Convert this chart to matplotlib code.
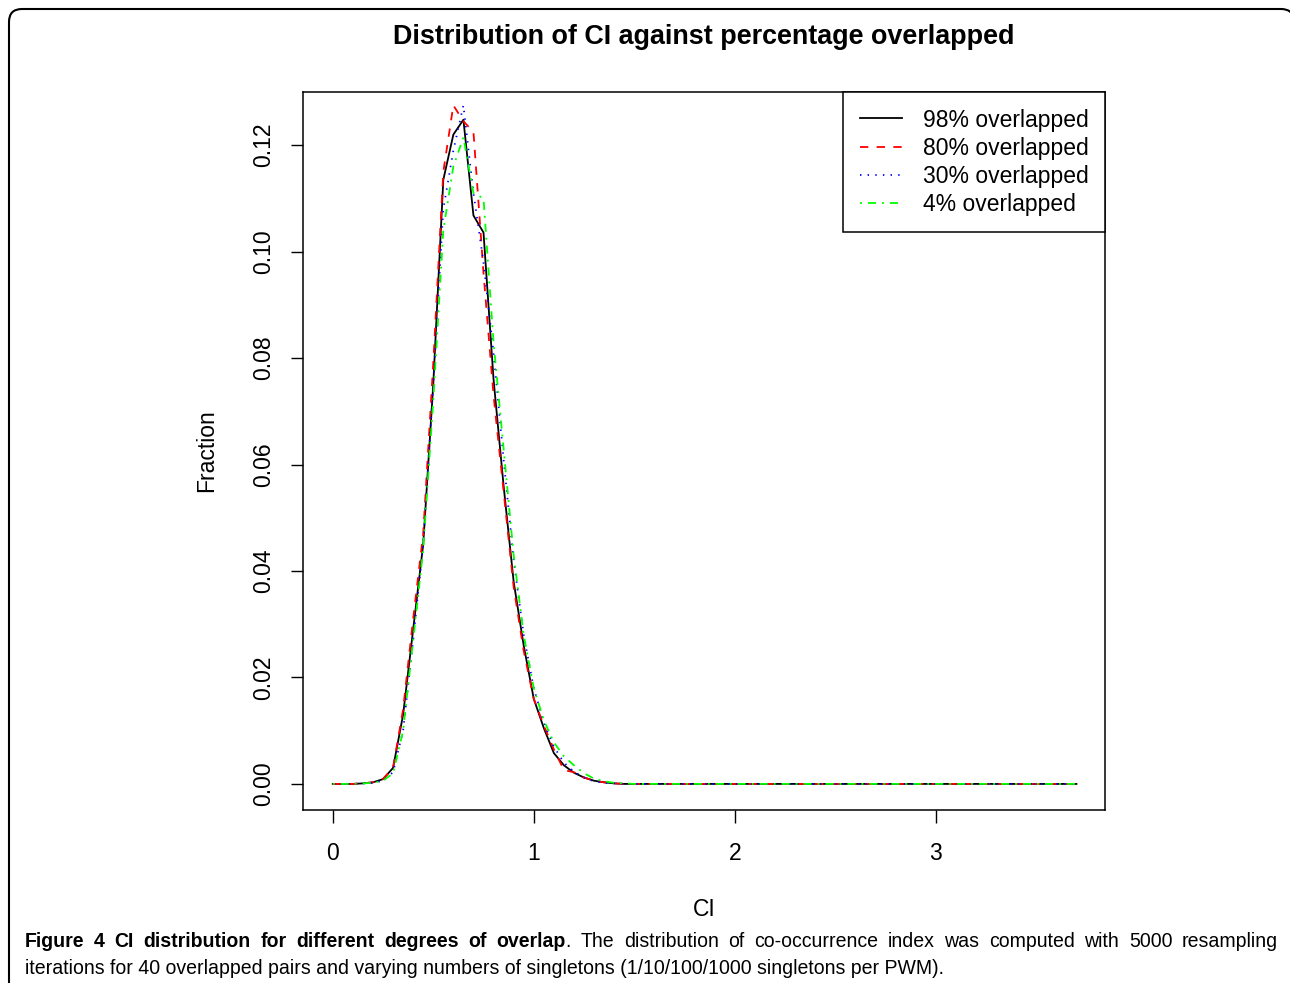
import matplotlib
matplotlib.use("Agg")
import matplotlib.pyplot as plt
from matplotlib.patches import PathPatch
from matplotlib.path import Path
from matplotlib.transforms import IdentityTransform

# CI bins (the tail past 1.5 is flat at zero up to 3.7)
ci = [0, 0.05, 0.1, 0.15, 0.2, 0.25, 0.3, 0.35, 0.4, 0.45, 0.5, 0.55, 0.6, 0.65,
      0.7, 0.75, 0.8, 0.85, 0.9, 0.95, 1.0, 1.05, 1.1, 1.15, 1.2, 1.25, 1.3,
      1.35, 1.4, 1.45, 1.5, 3.7]

overlap_98 = [0, 0, 0, 0.0001, 0.0003, 0.0009, 0.003, 0.013, 0.029, 0.045, 0.075,
              0.1135, 0.122, 0.1248, 0.1068, 0.1036, 0.076, 0.056, 0.038, 0.026,
              0.016, 0.0105, 0.0058, 0.0035, 0.0021, 0.0012, 0.0006, 0.0003,
              0.0001, 0, 0, 0]
overlap_80 = [0, 0, 0, 0.0001, 0.0003, 0.0009, 0.003, 0.014, 0.031, 0.047, 0.079,
              0.115, 0.1275, 0.1245, 0.1225, 0.096, 0.073, 0.055, 0.037, 0.025,
              0.016, 0.011, 0.0065, 0.0026, 0.0022, 0.0012, 0.0006, 0.0003,
              0.0001, 0, 0, 0]
overlap_30 = [0, 0, 0, 0.0001, 0.0002, 0.0006, 0.0022, 0.010, 0.027, 0.045, 0.075,
              0.108, 0.119, 0.1275, 0.111, 0.098, 0.081, 0.061, 0.042, 0.028,
              0.018, 0.0115, 0.007, 0.004, 0.0023, 0.0012, 0.0005, 0.0002,
              0.0001, 0, 0, 0]
overlap_4 = [0, 0, 0, 0.0001, 0.0002, 0.0006, 0.002, 0.010, 0.027, 0.044, 0.072,
             0.104, 0.116, 0.1215, 0.111, 0.110, 0.083, 0.063, 0.043, 0.028,
             0.018, 0.012, 0.0078, 0.0052, 0.0035, 0.002, 0.001, 0.0005,
             0.0002, 0.0001, 0, 0]

series_labels = ["98% overlapped", "80% overlapped", "30% overlapped", "4% overlapped"]
x_ticks = [0, 1, 2, 3]
y_ticks = [0.00, 0.02, 0.04, 0.06, 0.08, 0.10, 0.12]
y_tick_labels = ["0.00", "0.02", "0.04", "0.06", "0.08", "0.10", "0.12"]

plt.rcParams['font.family'] = ['Liberation Sans', 'DejaVu Sans']
plt.rcParams['lines.scale_dashes'] = False

W, H = 1290, 983
fig = plt.figure(figsize=(W / 100, H / 100), dpi=100)
ax = fig.add_axes([303 / W, 1 - 810 / H, 802 / W, 718 / H])

lw = 1.3
ax.plot(ci, overlap_98, color='black', lw=lw, label=series_labels[0])
ax.plot(ci, overlap_80, color='#ff0000', lw=lw, dashes=(6, 6), label=series_labels[1])
ax.plot(ci, overlap_30, color='#0000ff', lw=lw, dashes=(1, 4.5), label=series_labels[2])
ax.plot(ci, overlap_4, color='#00ff00', lw=lw, dashes=(1.4, 4.3, 5.8, 4.3),
        label=series_labels[3])

ax.set_xlim(-0.148, 3.842)
ax.set_ylim(-0.0049, 0.13)
ax.set_xticks(x_ticks)
ax.set_xticklabels([str(t) for t in x_ticks])
ax.set_yticks(y_ticks)
ax.set_yticklabels(y_tick_labels, rotation=90, va='center')
ax.tick_params(direction='out', length=9, width=1, labelsize=16.5, pad=14)
ax.tick_params(axis='y', pad=11)
for sp in ax.spines.values():
    sp.set_linewidth(1.1)

ax.set_xlabel("CI", fontsize=16.5)
ax.xaxis.set_label_coords(0.5, (810 - 909) / 718)
ax.xaxis.label.set_va('center')
ax.set_ylabel("Fraction", fontsize=16.5)
ax.yaxis.set_label_coords((207 - 303) / 802, 0.5)
ax.yaxis.label.set_va('center')

leg = ax.legend(loc='upper right', borderaxespad=0, fancybox=False, framealpha=1,
                edgecolor='black', fontsize=16.5, handlelength=1.85,
                handletextpad=0.9, borderpad=0.72, labelspacing=0.22)
leg.get_frame().set_linewidth(1.1)

fig.text(704 / W, 1 - 37 / H, "Distribution of CI against percentage overlapped",
         ha='center', va='center', fontsize=19.4, fontweight='bold')

# page frame: left side, rounded top-left corner, top edge, hook at the right
verts = [(9, -5), (9, 961), (9, 974), (22, 974), (1281, 974), (1294, 974), (1294, 961)]
codes = [Path.MOVETO, Path.LINETO, Path.CURVE3, Path.CURVE3, Path.LINETO,
         Path.CURVE3, Path.CURVE3]
frame = PathPatch(Path(verts, codes), transform=IdentityTransform(), fill=False,
                  edgecolor='black', lw=1.5)
fig.add_artist(frame)

# caption, first line justified
renderer = fig.canvas.get_renderer()
cap_family = ['Liberation Sans', 'DejaVu Sans']


def seg_width(txt, wt, size):
    t = fig.text(0, 0, txt, fontweight=wt, family=cap_family, fontsize=size)
    w = t.get_window_extent(renderer).width
    t.remove()
    return w


line2 = ("iterations for 40 overlapped pairs and varying numbers of singletons "
         "(1/10/100/1000 singletons per PWM).")
left, right, line2_end = 25, 1278, 942
cap_size = 13.5 * (line2_end - left) / seg_width(line2, 'normal', 13.5)

bold_words = "Figure 4 CI distribution for different degrees of".split()
line1 = [[(w, 'bold')] for w in bold_words]
line1.append([("overlap", 'bold'), (".", 'normal')])
line1 += [[(w, 'normal')] for w in
          "The distribution of co-occurrence index was computed with 5000 resampling".split()]

word_w = [sum(seg_width(t, wt, cap_size) for t, wt in word) for word in line1]
gap = (right - left - sum(word_w)) / (len(line1) - 1)
x = left
for word, ww in zip(line1, word_w):
    xx = x
    for t, wt in word:
        fig.text(xx / W, 1 - 947 / H, t, fontweight=wt, ha='left', va='baseline',
                 family=cap_family, fontsize=cap_size)
        xx += seg_width(t, wt, cap_size)
    x += ww + gap
fig.text(left / W, 1 - 974 / H, line2, ha='left', va='baseline',
         family=cap_family, fontsize=cap_size)

fig.savefig("out.png", dpi=100)
